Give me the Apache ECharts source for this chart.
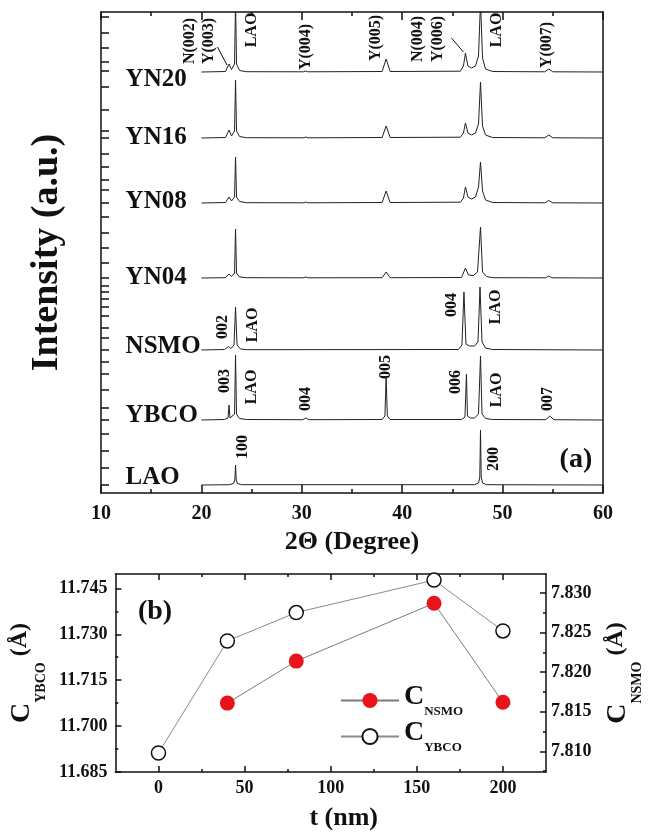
<!DOCTYPE html>
<html>
<head>
<meta charset="utf-8">
<script src="https://cdn.jsdelivr.net/npm/echarts@6/dist/echarts.min.js"></script>
<style>
html,body{margin:0;padding:0;background:#fff;}
#chart{width:652px;height:832px;}
</style>
</head>
<body>
<div id="chart"></div>
<script>
// ---------------- DATA ----------------
// Panel (a): XRD patterns, [2theta (deg), intensity above own baseline (a.u.)]
const sampleNames = ['LAO', 'YBCO', 'NSMO', 'YN04', 'YN08', 'YN16', 'YN20'];
const traceOffsets = [8, 73, 143, 215, 290, 355, 421];
const patternLAO = [[20,0],[22.8,0.3],[23.2,1.5],[23.33,5],[23.4,20],[23.47,5],[23.6,1.5],[24,0.3],[47.2,0.3],[47.6,2],[47.73,8],[47.8,55],[47.87,8],[48,2],[48.4,0.3],[60,0]];
const patternYBCO = [[20,0],[22.3,0.5],[22.65,2],[22.75,15],[22.85,2],[23.0,1.5],[23.3,6],[23.4,65],[23.5,6],[23.8,1.5],[24.5,0.5],[30.1,0.3],[30.4,2],[30.7,0.3],[38.0,0.5],[38.28,4],[38.4,44],[38.52,4],[38.8,0.5],[45.9,0.5],[46.25,3],[46.4,46],[46.5,4],[46.8,2],[47.2,2],[47.6,6],[47.8,64],[47.95,6],[48.3,1.5],[49,0.5],[54.3,0.3],[54.7,4],[55.1,0.3],[60,0]];
const patternNSMO = [[20,0],[22.3,0.5],[22.7,3.5],[22.95,1.5],[23.25,5],[23.4,43],[23.55,5],[23.9,1],[24.5,0.3],[45.6,0.5],[45.95,5],[46.15,58],[46.35,6],[46.7,4],[47.2,4],[47.55,8],[47.75,63],[47.95,8],[48.3,2],[49,0.5],[60,0]];
const patternYN04 = [[20,0],[22.4,0.3],[22.75,4],[23.0,1.5],[23.3,5],[23.4,49],[23.5,5],[23.8,1],[24.5,0.3],[30.2,0.2],[30.4,1],[30.6,0.2],[38.0,0.3],[38.4,6],[38.8,0.3],[45.9,0.5],[46.3,10],[46.6,3],[47.1,2.5],[47.5,6],[47.8,51],[48.0,6],[48.4,1.5],[49,0.3],[54.3,0.2],[54.6,2],[54.9,0.2],[60,0]];
const patternYN08 = [[20,0],[22.4,0.5],[22.75,6],[23.0,2],[23.3,6],[23.4,46],[23.5,6],[23.8,1.5],[24.5,0.3],[30.2,0.2],[30.4,1],[30.6,0.2],[38.0,0.5],[38.4,12],[38.8,0.5],[45.8,0.8],[46.1,5],[46.3,16],[46.55,6],[46.9,4],[47.3,6],[47.6,16],[47.8,41],[48.0,12],[48.3,3],[49,0.5],[54.2,0.2],[54.6,2.5],[55,0.2],[60,0]];
const patternYN16 = [[20,0],[22.4,0.5],[22.75,8],[23.0,2],[23.3,7],[23.4,58],[23.5,7],[23.8,1.5],[24.5,0.3],[30.2,0.2],[30.4,1],[30.6,0.2],[38.0,0.5],[38.4,12],[38.8,0.5],[45.8,0.8],[46.1,5],[46.3,15],[46.55,5],[46.9,3],[47.3,5],[47.6,14],[47.8,56],[48.0,12],[48.3,3],[49,0.5],[54.2,0.2],[54.6,3],[55,0.2],[60,0]];
const patternYN20 = [[20,0],[22.4,0.5],[22.75,8],[23.0,2.5],[23.3,8],[23.4,70],[23.5,8],[23.8,1.5],[24.5,0.3],[30.2,0.2],[30.4,1],[30.6,0.2],[38.0,0.5],[38.4,13],[38.8,0.5],[45.8,0.8],[46.1,6],[46.3,19],[46.55,6],[46.9,4],[47.3,6],[47.6,16],[47.8,70],[48.0,14],[48.3,3],[49,0.5],[54.2,0.2],[54.6,3],[55,0.2],[60,0]];
const patterns = [patternLAO, patternYBCO, patternNSMO, patternYN04, patternYN08, patternYN16, patternYN20];

// Panel (a) tick values
const twoThetaTicks = [10, 20, 30, 40, 50, 60];
const intensityTicks = [476,460,445,431,422,406,383,362,355,339,326,313,303,290,276,260,245,230,215,207,201,194,186,177,165,155,143,131,119,103,85,73,59,42,25,8];

// Panel (a) text annotations: [2theta, intensity, text]
const peakNotes = [
  [18.83,452,'N(002)'],[20.71,452,'Y(003)'],[25.0,463,'LAO'],[30.4,446,'Y(004)'],
  [37.4,455,'Y(005)'],[41.6,454,'N(004)'],[43.6,454,'Y(006)'],[49.4,463,'LAO'],[54.4,448,'Y(007)'],
  [22.1,166,'002'],[25.1,168,'LAO'],[44.9,188,'004'],[49.3,186,'LAO'],
  [22.3,112,'003'],[25.0,106,'LAO'],[30.4,94,'004'],[38.4,126,'005'],[45.3,111,'006'],[49.4,103,'LAO'],[54.5,94,'007'],
  [24.1,46,'100'],[49.1,34,'200']
];
const sampleLabelY = [15, 77, 146, 215, 291, 355, 413];
// arrows: [[x0,y0],[x1,y1]]
const arrows = [[[21.6,446],[22.55,428]], [[44.9,455],[46.1,441]]];

// Panel (b): lattice parameters
const tNm = [0, 40, 80, 160, 200];
const cYBCO = [11.6912, 11.7278, 11.7371, 11.7477, 11.7311];
const tNmNSMO = [40, 80, 160, 200];
const cNSMO = [7.8161, 7.8214, 7.8287, 7.8162];
const tTicks = [0, 50, 100, 150, 200];
const tMinorTicks = [25, 75, 125, 175];
const cYBCOTicks = [11.685, 11.700, 11.715, 11.730, 11.745];
const cYBCOMinor = [11.6925, 11.7075, 11.7225, 11.7375];
const cNSMOTicks = [7.810, 7.815, 7.820, 7.825, 7.830];
const cNSMOMinor = [7.8075, 7.8125, 7.8175, 7.8225, 7.8275];

// ---------------- CHART ----------------
const FONT = 'Liberation Serif';
const INK = '#111';
const axLine = {show: true, onZero: false, lineStyle: {color: INK, width: 1.5}};
const noLabel = {show: false};
const txt = (size) => ({fontFamily: FONT, fontWeight: 'bold', fontSize: size, color: INK});
const hidden = {color: 'rgba(0,0,0,0)', opacity: 1};

const chart = echarts.init(document.getElementById('chart'), null, {renderer: 'canvas'});

const traceSeries = patterns.map((p, i) => ({
  type: 'line', name: sampleNames[i], xAxisIndex: 0, yAxisIndex: 0,
  data: p.map(d => [d[0], d[1] + traceOffsets[i]]),
  showSymbol: false, symbol: 'none', clip: true, silent: true,
  lineStyle: {color: '#222', width: 1}
}));
traceSeries[6].markLine = {
  silent: true, symbol: ['none', 'arrow'], symbolSize: [0, 8],
  label: {show: false}, lineStyle: {color: INK, width: 1, type: 'solid'},
  data: arrows.map(a => [{coord: a[0]}, {coord: a[1]}])
};

const subRich = (cLH) => ({
  c: {fontFamily: FONT, fontWeight: 'bold', fontSize: 28, color: INK, lineHeight: cLH, verticalAlign: 'top'},
  s: {fontFamily: FONT, fontWeight: 'bold', fontSize: 14, color: INK, lineHeight: 14, verticalAlign: 'bottom'},
  p: {fontFamily: FONT, fontWeight: 'bold', fontSize: 24, color: INK, lineHeight: cLH, verticalAlign: 'top'}
});

const noteLabel = (size, extra) => Object.assign({show: true, opacity: 1, formatter: p => p.data[2]}, txt(size), extra);

const option = {
  backgroundColor: '#fff',
  animation: false,
  grid: [
    {left: 101, top: 12, width: 502, height: 481},
    {left: 112, top: 574, width: 456, height: 199}
  ],
  xAxis: [
    {gridIndex: 0, type: 'value', position: 'bottom', min: 10, max: 60, interval: 10,
     axisLine: axLine, axisTick: {show: true, inside: true, length: 8, lineStyle: {color: INK, width: 1.5}},
     minorTick: {show: true, splitNumber: 2, length: 4, lineStyle: {color: INK, width: 1.5}},
     axisLabel: Object.assign({show: true, margin: 11}, txt(20)), splitLine: {show: false},
     name: '2\u0398 (Degree)', nameLocation: 'middle', nameGap: 30, nameTextStyle: txt(26)},
    {gridIndex: 0, type: 'value', position: 'top', min: 10, max: 60, interval: 10,
     axisLine: axLine, axisTick: {show: true, inside: true, length: 8, lineStyle: {color: INK, width: 1.5}},
     minorTick: {show: true, splitNumber: 2, length: 4, lineStyle: {color: INK, width: 1.5}},
     axisLabel: noLabel, splitLine: {show: false}},
    {gridIndex: 1, type: 'value', position: 'bottom', min: -25, max: 225,
     axisLine: axLine,
     axisTick: {show: true, inside: true, length: 6, customValues: tTicks, lineStyle: {color: INK, width: 1.5}},
     axisLabel: Object.assign({show: true, margin: 7, customValues: tTicks}, txt(18)),
     splitLine: {show: false},
     name: 't (nm)', nameLocation: 'middle', nameGap: 33,
     nameTextStyle: Object.assign({padding: [0, 0, 0, 26]}, txt(26))},
    {gridIndex: 1, type: 'value', position: 'bottom', min: -25, max: 225,
     axisLine: {show: false, onZero: false},
     axisTick: {show: true, inside: true, length: 3, customValues: tMinorTicks, lineStyle: {color: INK, width: 1.5}},
     axisLabel: noLabel, splitLine: {show: false}},
    {gridIndex: 1, type: 'value', position: 'top', min: -25, max: 225,
     axisLine: axLine,
     axisTick: {show: true, inside: true, length: 6, customValues: tTicks, lineStyle: {color: INK, width: 1.5}},
     axisLabel: noLabel, splitLine: {show: false}},
    {gridIndex: 1, type: 'value', position: 'top', min: -25, max: 225,
     axisLine: {show: false, onZero: false},
     axisTick: {show: true, inside: true, length: 3, customValues: tMinorTicks, lineStyle: {color: INK, width: 1.5}},
     axisLabel: noLabel, splitLine: {show: false}}
  ],
  yAxis: [
    {gridIndex: 0, type: 'value', position: 'left', min: 0, max: 481,
     axisLine: axLine,
     axisTick: {show: true, inside: true, length: 8, customValues: intensityTicks, lineStyle: {color: INK, width: 1.5}},
     axisLabel: noLabel, splitLine: {show: false},
     name: 'Intensity (a.u.)', nameLocation: 'middle', nameGap: 35, nameTextStyle: txt(38)},
    {gridIndex: 0, type: 'value', position: 'right', min: 0, max: 481,
     axisLine: axLine, axisTick: {show: false}, axisLabel: noLabel, splitLine: {show: false}},
    {gridIndex: 1, type: 'value', position: 'left', min: 11.685, max: 11.7497,
     axisLine: axLine,
     axisTick: {show: true, inside: true, length: 6, customValues: cYBCOTicks, lineStyle: {color: INK, width: 1.5}},
     axisLabel: Object.assign({show: true, margin: 8, customValues: cYBCOTicks, formatter: v => v.toFixed(3)}, txt(18)),
     splitLine: {show: false},
     name: '{c|C}{s|YBCO}{p| (\u00C5)}', nameLocation: 'middle', nameGap: 62, nameRotate: 90,
     nameTextStyle: Object.assign({rich: subRich(40)}, txt(24))},
    {gridIndex: 1, type: 'value', position: 'left', min: 11.685, max: 11.7497,
     axisLine: {show: false, onZero: false},
     axisTick: {show: true, inside: true, length: 3, customValues: cYBCOMinor, lineStyle: {color: INK, width: 1.5}},
     axisLabel: noLabel, splitLine: {show: false}},
    {gridIndex: 1, type: 'value', position: 'right', min: 7.8074, max: 7.8324,
     axisLine: axLine,
     axisTick: {show: true, inside: true, length: 6, customValues: cNSMOTicks, lineStyle: {color: INK, width: 1.5}},
     axisLabel: Object.assign({show: true, margin: 5, customValues: cNSMOTicks, formatter: v => v.toFixed(3)}, txt(18)),
     splitLine: {show: false},
     name: '{c|C}{s|NSMO}{p| (\u00C5)}', nameLocation: 'middle', nameGap: 58, nameRotate: 90,
     nameTextStyle: Object.assign({rich: subRich(40)}, txt(24))},
    {gridIndex: 1, type: 'value', position: 'right', min: 7.8074, max: 7.8324,
     axisLine: {show: false, onZero: false},
     axisTick: {show: true, inside: true, length: 3, customValues: cNSMOMinor, lineStyle: {color: INK, width: 1.5}},
     axisLabel: noLabel, splitLine: {show: false}}
  ],
  legend: {
    show: true, orient: 'vertical', left: 340, top: 683, itemGap: 1, padding: 0,
    itemWidth: 58, itemHeight: 19, selectedMode: false,
    data: ['C_NSMO', 'C_YBCO'],
    formatter: n => n === 'C_NSMO' ? '{c|C}{s|NSMO}' : '{c|C}{s|YBCO}',
    textStyle: {rich: {
      c: {fontFamily: FONT, fontWeight: 'bold', fontSize: 28, color: INK, lineHeight: 35, verticalAlign: 'top'},
      s: {fontFamily: FONT, fontWeight: 'bold', fontSize: 13, color: INK, lineHeight: 13, verticalAlign: 'bottom'}
    }}
  },
  series: traceSeries.concat([
    {type: 'scatter', name: 'peakNotes', xAxisIndex: 0, yAxisIndex: 0, silent: true,
     symbolSize: 1, itemStyle: hidden, emphasis: {disabled: true},
     data: peakNotes,
     label: noteLabel(16, {position: 'inside', rotate: 90, align: 'center', verticalAlign: 'middle'})},
    {type: 'scatter', name: 'sampleNames', xAxisIndex: 0, yAxisIndex: 0, silent: true,
     symbolSize: 1, itemStyle: hidden, emphasis: {disabled: true},
     data: sampleNames.map((n, i) => [12.4, sampleLabelY[i], n]),
     label: noteLabel(25, {position: 'right', distance: 0, align: 'left', verticalAlign: 'middle'})},
    {type: 'scatter', name: 'panelA', xAxisIndex: 0, yAxisIndex: 0, silent: true,
     symbolSize: 1, itemStyle: hidden, emphasis: {disabled: true},
     data: [[57.3, 33, '(a)']],
     label: noteLabel(28, {position: 'inside'})},
    {type: 'scatter', name: 'panelB', xAxisIndex: 2, yAxisIndex: 2, silent: true,
     symbolSize: 1, itemStyle: hidden, emphasis: {disabled: true},
     data: [[-2, 11.7372, '(b)']],
     label: noteLabel(28, {position: 'inside'})},
    {type: 'line', name: 'C_NSMO', xAxisIndex: 2, yAxisIndex: 4,
     data: tNmNSMO.map((t, i) => [t, cNSMO[i]]),
     symbol: 'circle', symbolSize: 15, showSymbol: true, z: 4,
     lineStyle: {color: '#7a7a7a', width: 1},
     itemStyle: {color: '#e8141b', borderWidth: 0, opacity: 1}},
    {type: 'line', name: 'C_YBCO', xAxisIndex: 2, yAxisIndex: 2,
     data: tNm.map((t, i) => [t, cYBCO[i]]),
     symbol: 'circle', symbolSize: 14, showSymbol: true, z: 3,
     lineStyle: {color: '#8a8a8a', width: 1},
     itemStyle: {color: '#ffffff', borderColor: INK, borderWidth: 1.5, opacity: 1}}
  ])
};
chart.setOption(option);
</script>
</body>
</html>
